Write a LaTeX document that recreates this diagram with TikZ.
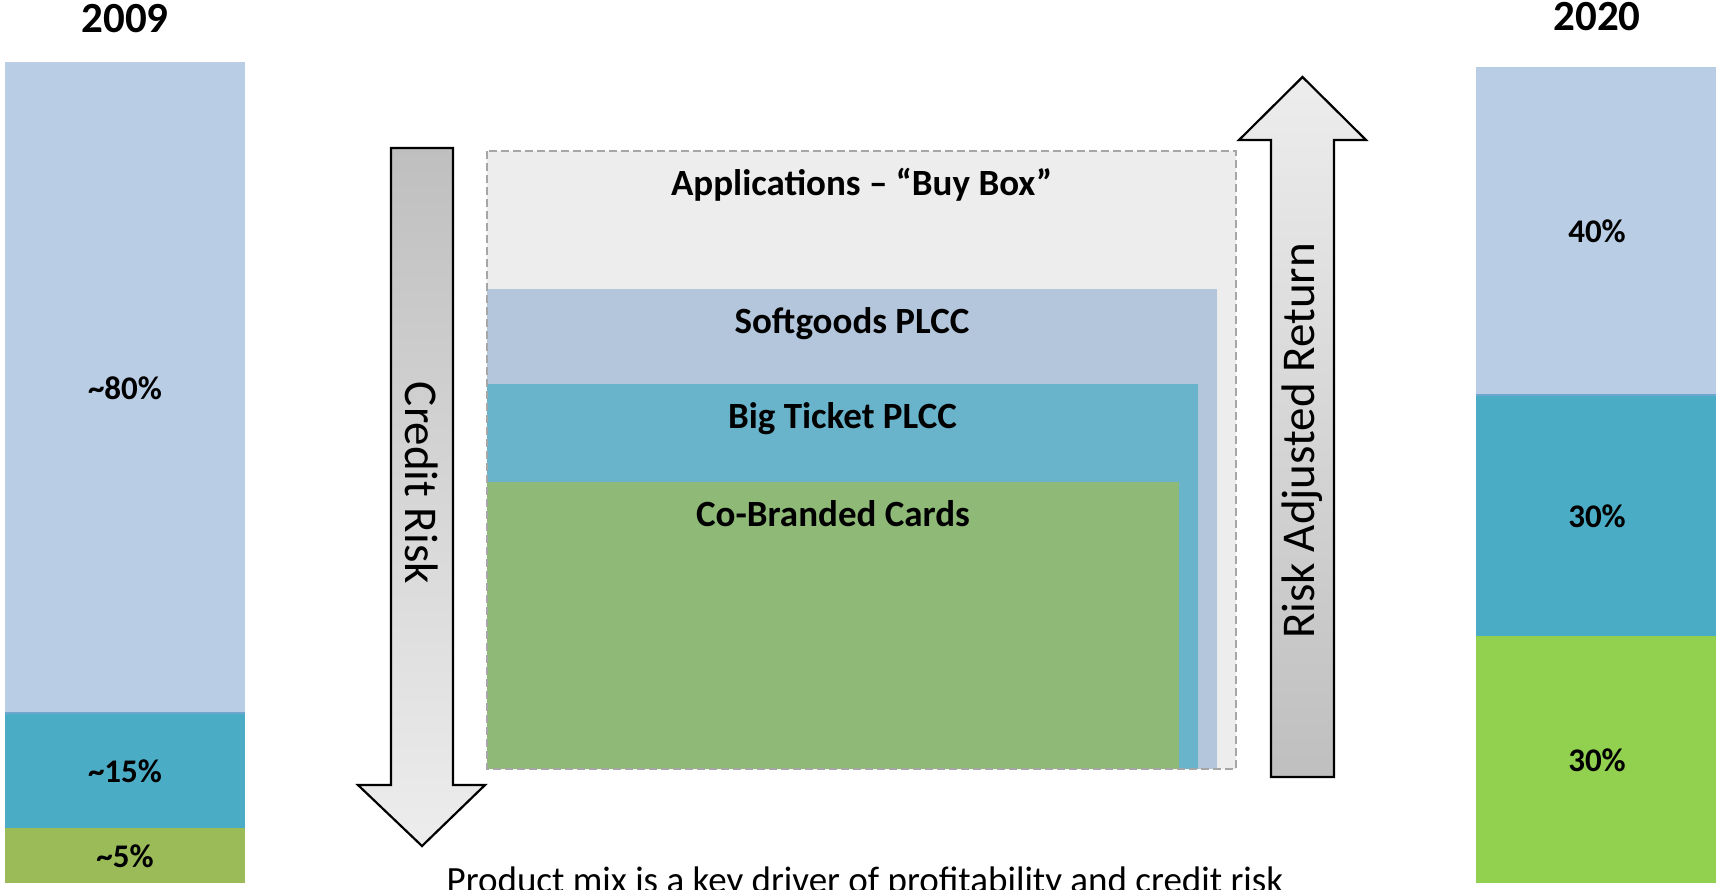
\documentclass[tikz,border=0pt]{standalone}
\usepackage{fontspec}
\setmainfont{Carlito}
\definecolor{cLBlue}{HTML}{B9CDE5}
\definecolor{cTeal}{HTML}{4BACC6}
\definecolor{cOlive}{HTML}{9BBB59}
\definecolor{cLime}{HTML}{92D050}
\definecolor{cApp}{HTML}{EDEDED}
\definecolor{cSoft}{HTML}{B4C6DC}
\definecolor{cBig}{HTML}{69B3CB}
\definecolor{cCo}{HTML}{8FB977}
\definecolor{cDash}{HTML}{A6A6A6}
\definecolor{cSep}{HTML}{6FA6CF}
\definecolor{cArrDark}{HTML}{BFBFBF}
\definecolor{cArrLight}{HTML}{EDEDED}
\begin{document}
\begin{tikzpicture}[x=0.5pt,y=-0.5pt,
  yearlbl/.style={inner sep=0pt,anchor=base,font=\fontsize{21.5}{25}\selectfont\bfseries},
  pctlbl/.style={inner sep=0pt,font=\fontsize{16.5}{20}\selectfont\bfseries},
  boxlbl/.style={inner sep=0pt,anchor=base,font=\fontsize{18.5}{22}\selectfont\bfseries},
  arrowtxt/.style={inner sep=0pt,font=\fontsize{23.5}{28}\selectfont},
  bigarrow/.style={draw=black,line width=1.1pt,line join=miter},
  seprule/.style={cSep,line width=0.8pt},
  buybox/.style={cDash,line width=1pt,dash pattern=on 4pt off 2pt}]
\useasboundingbox (0,0) rectangle (1716,889);

% ---------- 2009 bar ----------
\node[yearlbl] (y09) at (125,32) {2009};
\fill[cLBlue] (5,62) rectangle (245,713);
\fill[cTeal] (5,713) rectangle (245,828);
\fill[cOlive] (5,828) rectangle (245,883);
\draw[seprule] (5,713) -- (245,713);
\node[pctlbl] (p80) at (125,388) {\textasciitilde80\%};
\node[pctlbl] (p15) at (125,771) {\textasciitilde15\%};
\node[pctlbl] (p5) at (125,856) {\textasciitilde5\%};

% ---------- 2020 bar ----------
\node[yearlbl] (y20) at (1597,30.5) {2020};
\fill[cLBlue] (1476,67) rectangle (1716,395);
\fill[cTeal] (1476,395) rectangle (1716,636);
\fill[cLime] (1476,636) rectangle (1716,883);
\draw[seprule] (1476,395) -- (1716,395);
\node[pctlbl] (p40) at (1597,231) {40\%};
\node[pctlbl] (p30a) at (1597,516) {30\%};
\node[pctlbl] (p30b) at (1597,760) {30\%};

% ---------- nested boxes ----------
\fill[cApp] (487,151) rectangle (1236,769);
\fill[cSoft] (487,289) rectangle (1217,769);
\fill[cBig] (487,384) rectangle (1198,769);
\fill[cCo] (487,482) rectangle (1179,769);
\draw[buybox] (487,151) rectangle (1236,769);
\node[boxlbl] (lapp) at (861.5,195) {Applications – “Buy Box”};
\node[boxlbl] (lsoft) at (852,333) {Softgoods PLCC};
\node[boxlbl] (lbig) at (842.5,428) {Big Ticket PLCC};
\node[boxlbl] (lco) at (833,526) {Co-Branded Cards};

% ---------- Credit Risk arrow (down) ----------
\shade[bigarrow,top color=cArrDark,bottom color=cArrLight]
  (391,148) -- (453,148) -- (453,785) -- (485,785) -- (422,846)
  -- (358,785) -- (391,785) -- cycle;
\node[arrowtxt,rotate=-90] (cr) at (422,483) {Credit Risk};

% ---------- Risk Adjusted Return arrow (up) ----------
\shade[bigarrow,top color=cArrLight,bottom color=cArrDark]
  (1271,777) -- (1271,140) -- (1239,140) -- (1302.5,77) -- (1366,140)
  -- (1334,140) -- (1334,777) -- cycle;
\node[arrowtxt,rotate=90] (rar) at (1302.5,441) {Risk Adjusted Return};

% ---------- caption ----------
\node[inner sep=0pt,anchor=base,font=\fontsize{18.5}{22}\selectfont] (cap) at (865,892)
  {Product mix is a key driver of profitability and credit risk};
\end{tikzpicture}
\end{document}
